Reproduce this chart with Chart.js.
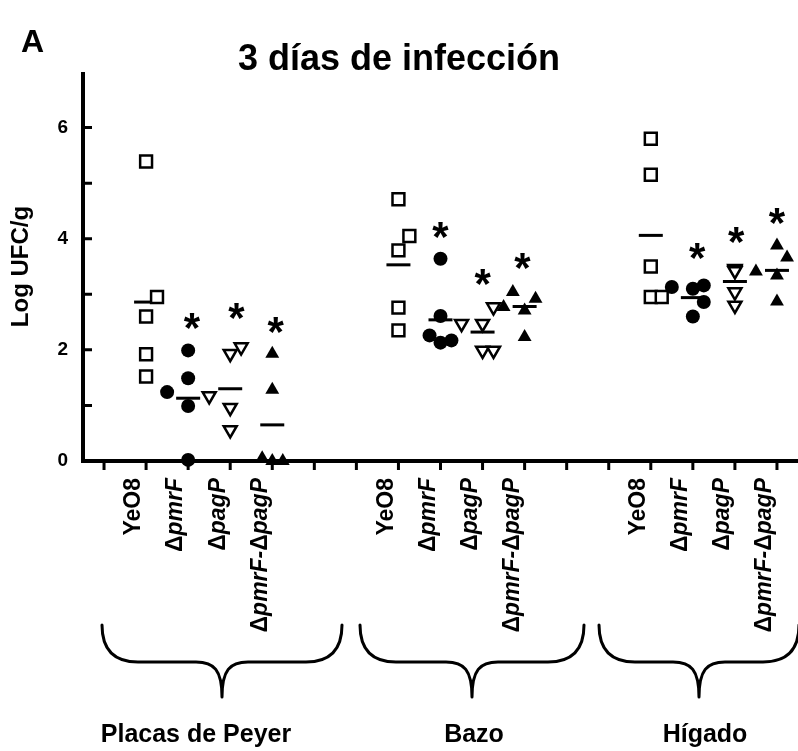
<!DOCTYPE html>
<html>
<head>
<meta charset="utf-8">
<script src="https://cdn.jsdelivr.net/npm/chart.js@4.4.1/dist/chart.umd.min.js"></script>
<style>
  html, body { margin: 0; padding: 0; background: #fff; }
  canvas { display: block; }
</style>
</head>
<body>
<canvas id="chart" width="798" height="751"></canvas>
<script>
const categories = ['YeO8', 'ΔpmrF', 'ΔpagP', 'ΔpmrF-ΔpagP'];
const tissues = ['Placas de Peyer', 'Bazo', 'Hígado'];
const groupStart = [2, 8, 14]; // x slot of the first strain in each tissue
const xTicks = [1, 2, 3, 4, 5, 6, 7, 8, 9, 10, 11, 12, 13, 14, 15, 16, 17];
const yTicks = [0, 1, 2, 3, 4, 5, 6];

// Log UFC/g per mouse, one row per tissue
const yeo8 = [
  [5.39, 2.60, 1.92, 1.52, 2.95],
  [4.71, 3.79, 2.76, 2.35, 4.05],
  [5.80, 5.15, 3.50, 2.95, 2.95]
];
const pmrF = [
  [1.99, 1.49, 0.99, 0.02, 1.24],
  [3.64, 2.61, 2.26, 2.13, 2.17],
  [3.13, 3.10, 3.16, 2.86, 2.60]
];
const pagP = [
  [1.93, 0.96, 0.56, 2.05, 1.17],
  [2.47, 2.47, 1.99, 1.99, 2.77],
  [3.46, 3.44, 3.42, 3.04, 2.80]
];
const pmrFpagP = [
  [1.93, 1.28, 0.00, 0.05, 0.00],
  [3.04, 2.77, 2.71, 2.92, 2.23],
  [3.41, 3.88, 3.66, 3.34, 2.87]
];

// sideways shift of each point from its strain slot
const yeo8Jitter = [[0, 0, 0, 0, 0.26], [0, 0, 0, 0, 0.26], [0, 0, 0, 0, 0.26]];
const pmrFJitter = [[0, 0, 0, 0, -0.5], [0, 0, -0.26, 0, 0.26], [-0.5, 0, 0.26, 0.26, 0]];
const pagPJitter = [[0, 0, 0, 0.26, -0.5], [-0.5, 0, 0, 0.26, 0.26], [0, 0, 0, 0, 0]];
const pmrFpagPJitter = [[0, 0, 0, -0.24, 0.25], [-0.28, -0.5, 0, 0.26, 0], [-0.5, 0, 0.24, 0, 0]];

// group means (horizontal bars)
const means = [
  [2.86, 1.13, 1.30, 0.65],
  [3.53, 2.54, 2.32, 2.78],
  [4.06, 2.94, 3.23, 3.43]
];
// asterisks (significance) height and sideways shift
const stars = [
  [null, 2.60, 2.77, 2.52],
  [null, 4.24, 3.39, 3.67],
  [null, 3.85, 4.15, 4.49]
];
const starShift = [
  [0, 0.09, 0.15, 0.08],
  [0, 0, 0, -0.05],
  [0, 0.1, 0.03, 0]
];

const FONT = '"Liberation Sans", Arial, sans-serif';

function toPoints(values, jitter, c) {
  const out = [];
  values.forEach((row, t) => {
    row.forEach((v, i) => out.push({ x: groupStart[t] + c + jitter[t][i], y: v }));
  });
  return out;
}

const meanPoints = [];
means.forEach((row, t) => row.forEach((v, c) => meanPoints.push({ x: groupStart[t] + c, y: v })));

const axesPlugin = {
  id: 'axes',
  beforeDatasetsDraw(chart) {
    const { ctx, chartArea: a, scales: { x, y } } = chart;
    ctx.save();
    ctx.strokeStyle = '#000';
    ctx.lineWidth = 4;
    ctx.beginPath();
    ctx.moveTo(a.left, a.top);
    ctx.lineTo(a.left, a.bottom);
    ctx.lineTo(a.right, a.bottom);
    ctx.stroke();
    ctx.lineWidth = 3;
    ctx.beginPath();
    xTicks.forEach(v => {
      const px = x.getPixelForValue(v);
      ctx.moveTo(px, a.bottom);
      ctx.lineTo(px, a.bottom + 9);
    });
    yTicks.slice(1).forEach(v => {
      const py = y.getPixelForValue(v);
      ctx.moveTo(a.left, py);
      ctx.lineTo(a.left + 9, py);
    });
    ctx.stroke();
    ctx.restore();
  }
};

// rotated strain name: Δ upright, gene name in italics
function drawLabel(ctx, label, x, y) {
  const italic = label.includes('Δ');
  const parts = label.split(/(Δ)/).filter(s => s);
  const up = 'bold 23px ' + FONT;
  const it = 'italic bold 23px ' + FONT;
  const fontOf = p => (p === 'Δ' || !italic) ? up : it;
  let w = 0;
  parts.forEach(p => { ctx.font = fontOf(p); w += ctx.measureText(p).width; });
  ctx.save();
  ctx.translate(x, y);
  ctx.rotate(-Math.PI / 2);
  ctx.textAlign = 'left';
  ctx.textBaseline = 'middle';
  let pos = -w;
  parts.forEach(p => {
    ctx.font = fontOf(p);
    ctx.fillText(p, pos, 0);
    pos += ctx.measureText(p).width;
  });
  ctx.restore();
}

function drawBrace(ctx, cx, w, top, mid, tip) {
  ctx.beginPath();
  ctx.moveTo(cx - w, top);
  ctx.bezierCurveTo(cx - w, mid - 10, cx - w + 14, mid, cx - w + 36, mid);
  ctx.lineTo(cx - 26, mid);
  ctx.bezierCurveTo(cx - 8, mid, cx, mid + 8, cx, tip);
  ctx.bezierCurveTo(cx, mid + 8, cx + 8, mid, cx + 26, mid);
  ctx.lineTo(cx + w - 36, mid);
  ctx.bezierCurveTo(cx + w - 14, mid, cx + w, mid - 10, cx + w, top);
  ctx.stroke();
}

const braceCenter = [222, 472, 699];
const braceHalf = [120, 112, 100];
const tissueLabelX = [196, 474, 705];

const annotPlugin = {
  id: 'annot',
  afterDatasetsDraw(chart) {
    const { ctx, chartArea: a, scales: { x, y } } = chart;
    ctx.save();
    ctx.fillStyle = '#000';
    ctx.strokeStyle = '#000';

    // asterisks
    ctx.font = 'bold 42px ' + FONT;
    ctx.textAlign = 'center';
    ctx.textBaseline = 'alphabetic';
    stars.forEach((row, t) => row.forEach((v, c) => {
      if (v === null) return;
      const px = x.getPixelForValue(groupStart[t] + c + starShift[t][c]);
      const py = y.getPixelForValue(v);
      ctx.fillText('*', px, py + 0.6 * 42);
    }));

    // panel letter
    ctx.font = 'bold 32px ' + FONT;
    ctx.textAlign = 'left';
    ctx.fillText('A', 21, 52);

    // strain labels
    tissues.forEach((_, t) => {
      categories.forEach((lab, c) => {
        drawLabel(ctx, lab, x.getPixelForValue(groupStart[t] + c) - 12, a.bottom + 17);
      });
    });

    // braces
    ctx.lineWidth = 3;
    ctx.lineJoin = 'round';
    ctx.lineCap = 'round';
    braceCenter.forEach((cx, i) => {
      drawBrace(ctx, cx, braceHalf[i], a.bottom + 164, a.bottom + 201, a.bottom + 236);
    });

    // tissue names
    ctx.font = 'bold 25px ' + FONT;
    ctx.textAlign = 'center';
    tissues.forEach((name, t) => ctx.fillText(name, tissueLabelX[t], a.bottom + 281));
    ctx.restore();
  }
};

const base = { showLine: false, clip: false, pointBorderColor: '#000' };

new Chart(document.getElementById('chart'), {
  type: 'scatter',
  data: {
    datasets: [
      Object.assign({}, base, {
        label: categories[0], data: toPoints(yeo8, yeo8Jitter, 0),
        pointStyle: 'rect', pointRadius: 8.4, pointBorderWidth: 2.5, pointBackgroundColor: '#fff'
      }),
      Object.assign({}, base, {
        label: categories[1], data: toPoints(pmrF, pmrFJitter, 1),
        pointStyle: 'circle', pointRadius: 7, pointBorderWidth: 0, pointBackgroundColor: '#000'
      }),
      Object.assign({}, base, {
        label: categories[2], data: toPoints(pagP, pagPJitter, 2),
        pointStyle: 'triangle', rotation: 180, pointRadius: 7.5, pointBorderWidth: 2.5, pointBackgroundColor: '#fff'
      }),
      Object.assign({}, base, {
        label: categories[3], data: toPoints(pmrFpagP, pmrFpagPJitter, 3),
        pointStyle: 'triangle', pointRadius: 8, pointBorderWidth: 0, pointBackgroundColor: '#000'
      }),
      Object.assign({}, base, {
        label: 'media', data: meanPoints,
        pointStyle: 'line', pointRadius: 12, pointBorderWidth: 3
      })
    ]
  },
  options: {
    responsive: false,
    animation: false,
    events: [],
    devicePixelRatio: 1,
    layout: { autoPadding: false, padding: 0 },
    plugins: {
      legend: { display: false },
      tooltip: { enabled: false },
      title: {
        display: true,
        text: '3 días de infección',
        color: '#000',
        font: { family: FONT, size: 36, weight: 'bold', lineHeight: 1 },
        padding: { top: 42, bottom: -6 }
      }
    },
    scales: {
      x: {
        type: 'linear', min: 0.5, max: 17.5,
        grid: { display: false, drawTicks: false },
        border: { display: false },
        ticks: { display: false },
        afterFit: s => { s.height = 290; }
      },
      y: {
        min: 0, max: 7,
        grid: { display: false, drawTicks: false },
        border: { display: false },
        afterBuildTicks: s => { s.ticks = yTicks.map(v => ({ value: v })); },
        ticks: {
          color: '#000',
          padding: 15,
          font: { family: FONT, size: 19, weight: 'bold' },
          callback: v => (v % 2 === 0 ? v : '')
        },
        title: {
          display: true,
          text: 'Log UFC/g',
          color: '#000',
          font: { family: FONT, size: 24, weight: 'bold' },
          padding: { top: 7 }
        },
        afterFit: s => { s.width = 83; }
      }
    }
  },
  plugins: [axesPlugin, annotPlugin]
});
</script>
</body>
</html>
